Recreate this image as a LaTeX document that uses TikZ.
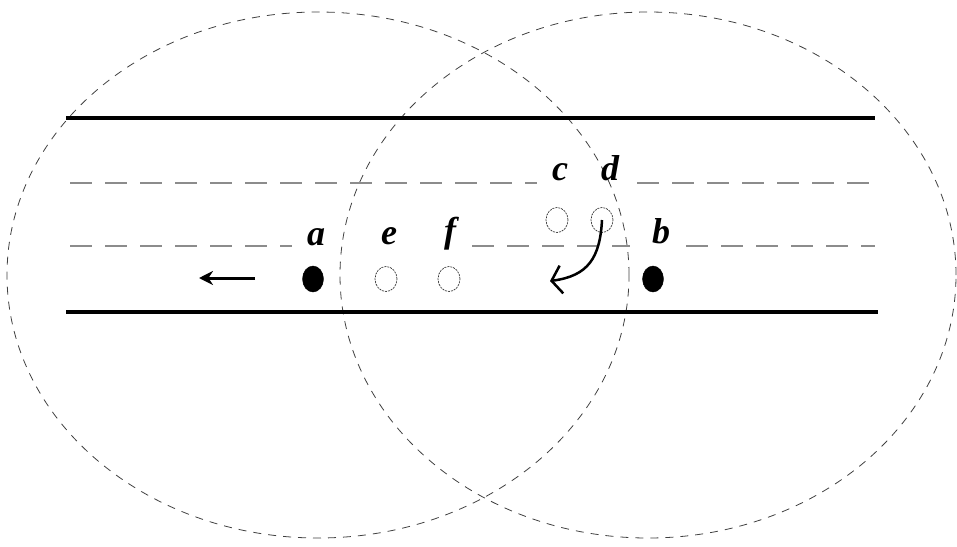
\documentclass[tikz,border=0pt]{standalone}
\usepackage{fontspec}
\setmainfont{Liberation Serif}
\usetikzlibrary{arrows.meta,shapes.geometric}
\tikzset{
  ell/.style={draw=black!75, line width=0.8pt, dash pattern=on 8pt off 7pt},
  road/.style={draw=black, line width=4pt},
  lane/.style={draw=black!45, line width=2pt, dash pattern=on 22pt off 13pt},
  fdot/.style={ellipse, fill=black, draw=black, minimum width=21pt, minimum height=26pt, inner sep=0pt},
  odot/.style={ellipse, draw=black!80, line width=0.7pt, dash pattern=on 2pt off 1pt, minimum width=22pt, minimum height=25pt, inner sep=0pt},
  lbl/.style={inner sep=0pt, font=\fontsize{36}{36}\selectfont\bfseries\itshape},
}
\begin{document}
\begin{tikzpicture}[x=1pt,y=-1pt]
\useasboundingbox (0,0) rectangle (957,546);
% circles
\draw[ell] (318,275) ellipse [x radius=311pt, y radius=263pt];
\draw[ell] (648,275) ellipse [x radius=308pt, y radius=263pt];
% road edges
\draw[road] (66,118) -- (875,118);
\draw[road] (66,312) -- (878,312);
% lanes
\draw[lane] (70,183) -- (537,183);
\draw[lane] (637,183) -- (875,183);
\draw[lane] (70,246) -- (292,246);
\draw[lane] (472,246) -- (630,246);
\draw[lane] (686,246) -- (875,246);
% vehicles
\node[fdot] (a) at (313,279) {};
\node[fdot] (b) at (653,279) {};
\node[odot] (e) at (386,279) {};
\node[odot] (f) at (449,279) {};
\node[odot] (c) at (557,220) {};
\node[odot] (d) at (602,220) {};
% labels
\node[lbl] (la) at (316,237) {a};
\node[lbl] (le) at (389,236) {e};
\node[lbl] (lf) at (450,234) {f};
\node[lbl] (lb) at (661,231) {b};
\node[lbl] (lc) at (560,172) {c};
\node[lbl] (ld) at (610,168) {d};
% arrows
\coordinate (l1) at (255,278);
\coordinate (l2) at (199,278);
\draw[line width=3pt, -{Stealth[length=14pt,width=14pt]}] (l1) -- (l2);
\coordinate (dend) at (550,281);
\draw[line width=2.5pt, -{Straight Barb[length=10pt,width=28pt]}] (d.center) .. controls (600,258) and (588,276) .. (dend);
\end{tikzpicture}
\end{document}
